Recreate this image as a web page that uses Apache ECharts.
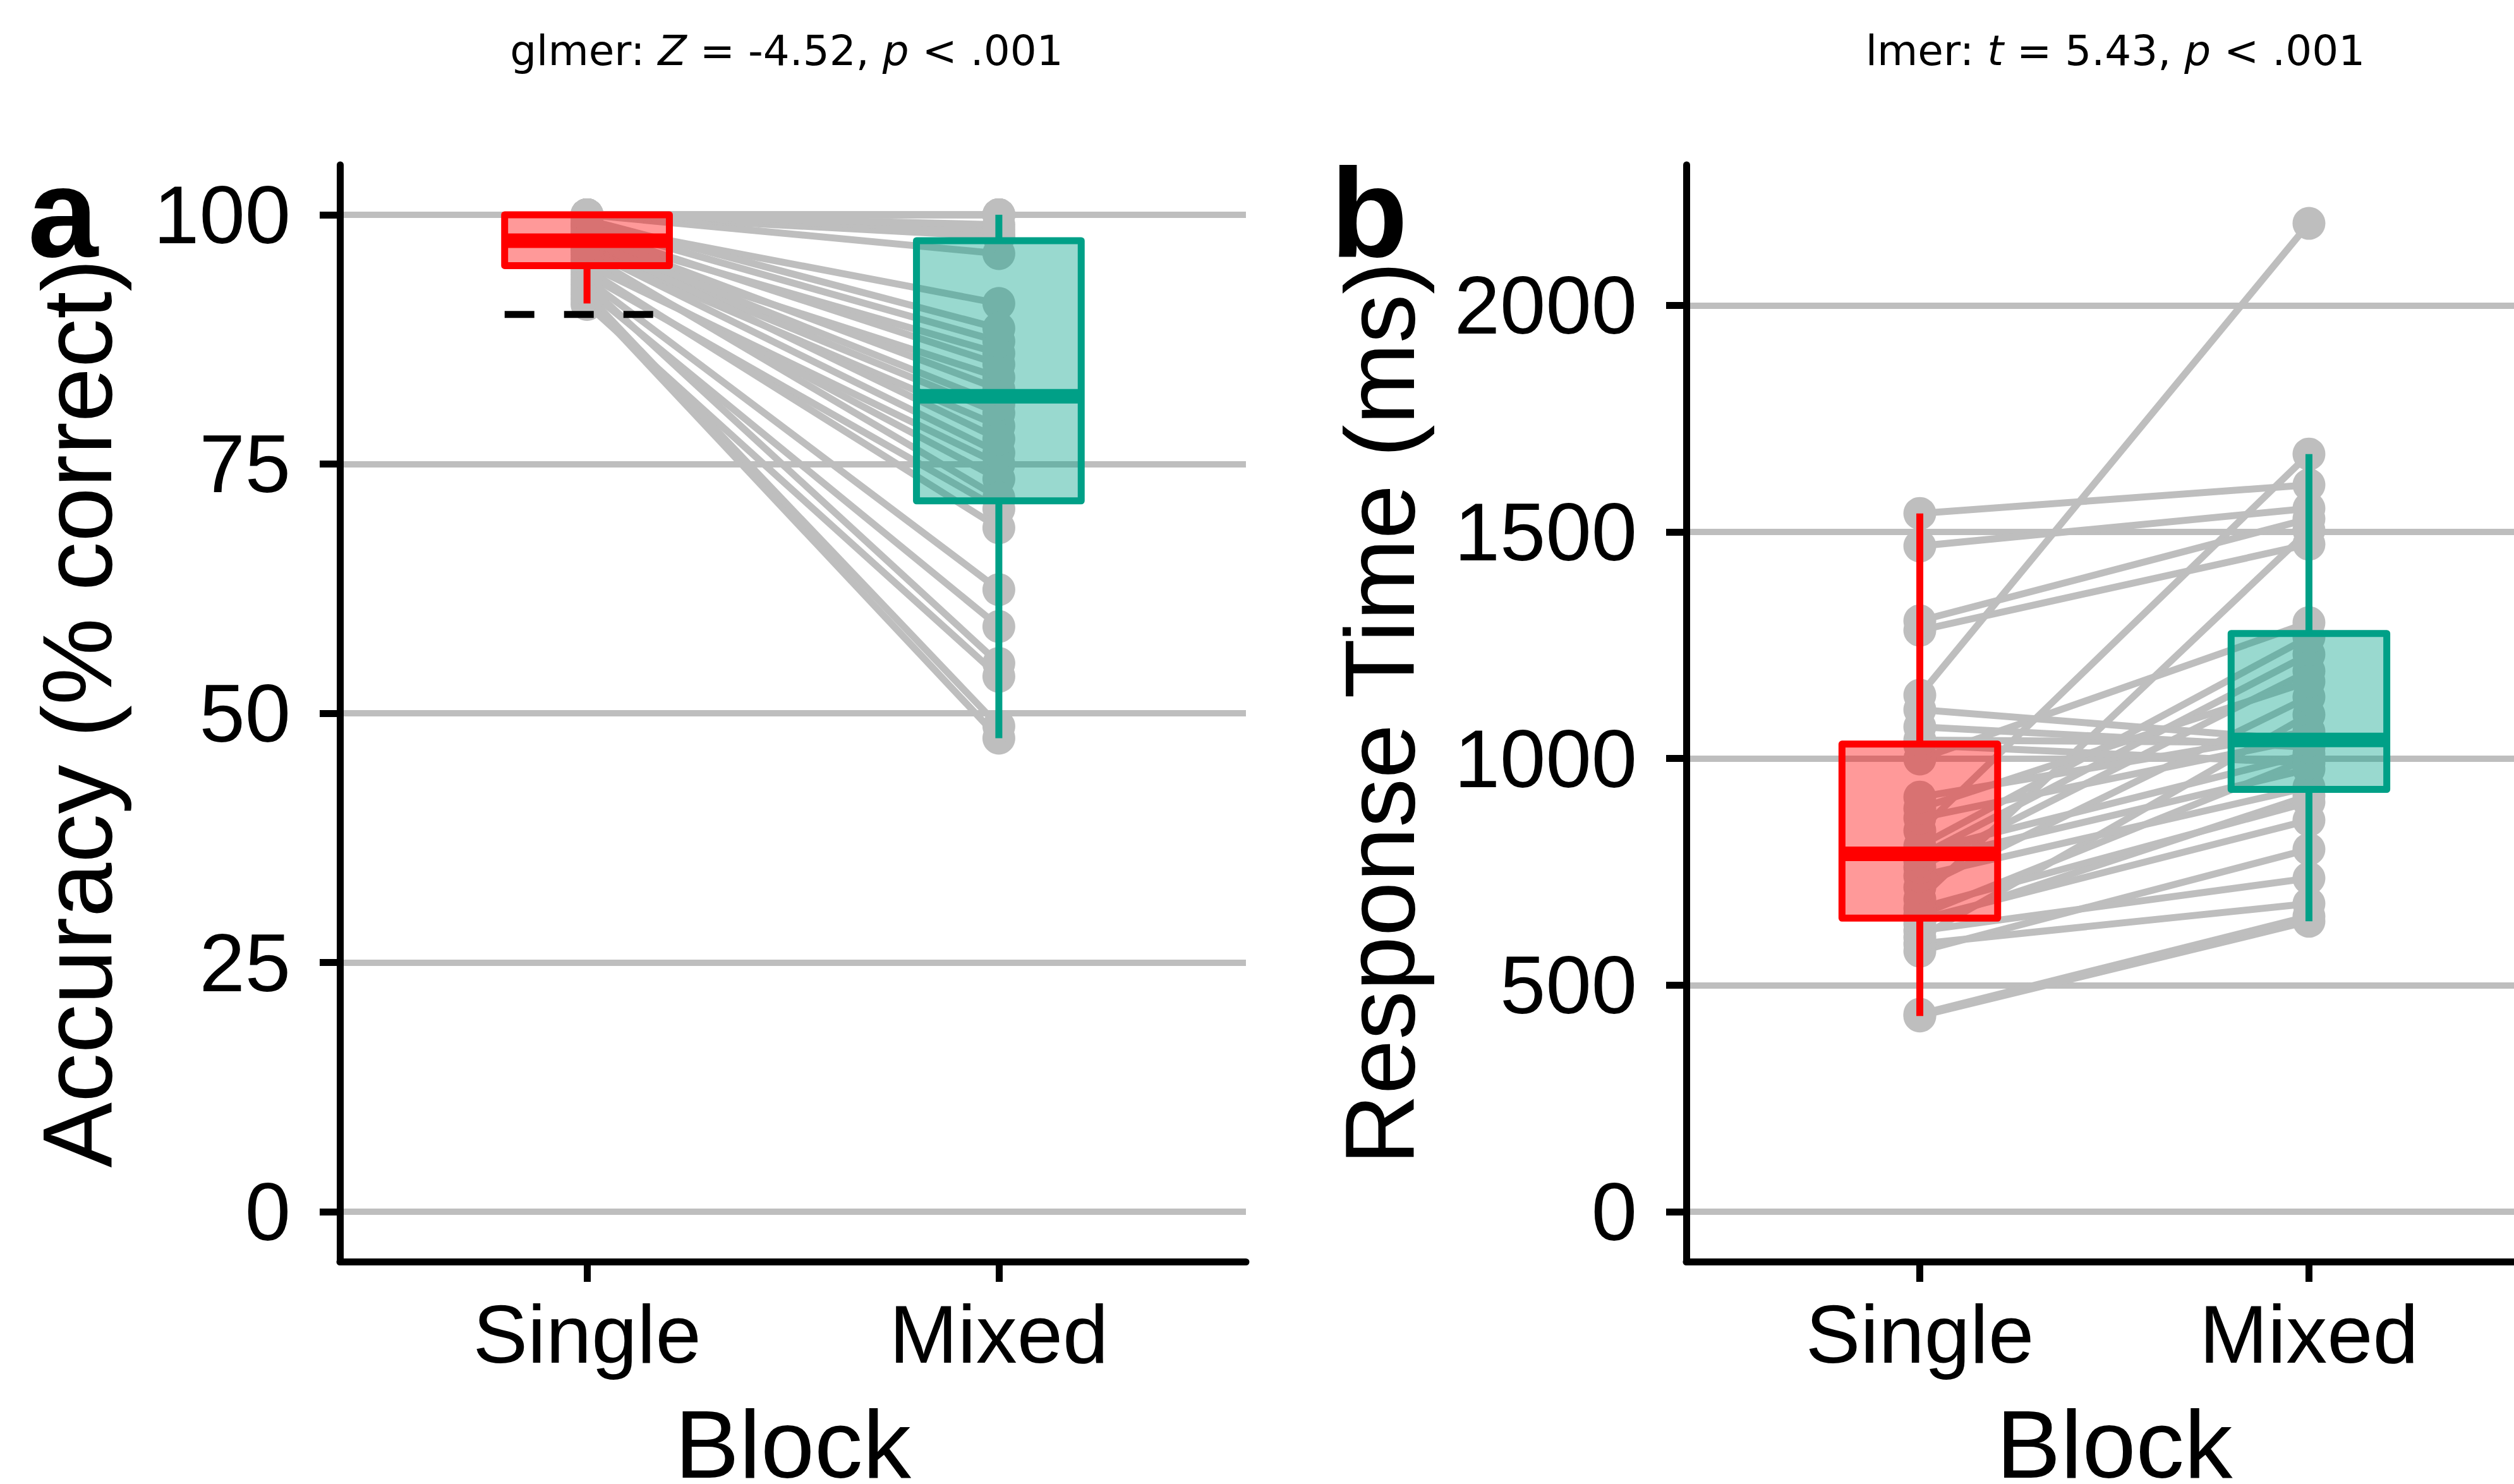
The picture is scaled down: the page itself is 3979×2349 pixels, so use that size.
<!DOCTYPE html>
<html><head><meta charset="utf-8">
<script src="https://cdn.jsdelivr.net/npm/echarts@6/dist/echarts.min.js"></script>
<style>html,body{margin:0;padding:0;background:#fff;}#chart{width:3979px;height:2349px;}</style>
</head><body><div id="chart"></div>
<script>
// ---------- data ----------
const blocks = ['Single', 'Mixed'];
// Panel a: accuracy (% correct), one entry per participant
const accSingle = [91.0,91.5,92.0,92.5,93.0,93.5,94.0,94.5,95.0,95.5,96.0,96.5,96.5,97.0,97.0,97.5,97.5,98.0,98.0,98.5,99.0,99.0,99.5,100,100,100,100,100,100,100,100,100];
const accMixed  = [53.7,47.5,48.7,58.7,55.0,62.4,70.5,68.6,75.0,73.5,71.6,78.8,76.1,80.1,83.7,77.5,81.0,86.1,82.5,85.0,87.3,91.1,88.6,96.1,97.8,98.0,98.5,99.0,100,100,100,100];
// box stats [whiskerLow, Q1, median, Q3, whiskerHigh]
const accBoxSingle = [91.1, 94.9, 97.4, 100, 100];
const accBoxMixed  = [47.5, 71.3, 81.8, 97.4, 100];
const accCriterion = 90;
const accTicks = [0, 25, 50, 75, 100];
// Panel b: response time (ms)
const rtSingle = [432,436,575,591,605,620,635,645,655,670,690,716,741,760,774,785,795,807,841,869,890,915,999,1030,1041,1070,1108,1140,1283,1304,1469,1541];
const rtMixed  = [641,652,800,680,1097,736,918,864,1000,904,1504,1136,937,1193,977,1230,1010,1268,1672,1045,1170,1060,1300,990,1035,1025,1040,2181,1473,1529,1552,1604];
const rtBoxSingle = [432, 648, 790, 1032, 1541];
const rtBoxMixed  = [641, 932, 1041, 1276, 1672];
const rtTicks = [0, 500, 1000, 1500, 2000];

// ---------- style / layout ----------
const GRAY = '#BEBEBE';
const RED = '#FF0000', RED_FILL = 'rgba(255,0,0,0.4)';
const TEAL = '#00A087', TEAL_FILL = 'rgba(0,160,135,0.4)';
const BOX_HALF = 0.2;
const FONT = '"Liberation Sans", Arial, sans-serif';
const W = 3979;
// panel b is cut by the right edge of the image: full panel would span 1355 px for x range 0.4..2.6
const B_LEFT = 2669, B_FULL_W = 1355;
const B_W = W - B_LEFT;
const B_XMAX = 0.4 + 2.2 * B_W / B_FULL_W;
// x-axis title is centred on the full (uncut) panel
const B_NAME_SHIFT = 2 * ((B_FULL_W - B_W) / 2);

const chart = echarts.init(document.getElementById('chart'), null, {renderer: 'svg'});

function xAxisFor(gridIndex, max, namePadLeft) {
  return {
    type: 'value', gridIndex, min: 0.4, max,
    axisLine: {show: true, onZero: false, lineStyle: {color: '#000', width: 11}},
    axisTick: {show: true, length: 32, customValues: [1, 2], lineStyle: {color: '#000', width: 11}},
    axisLabel: {customValues: [1, 2], formatter: v => blocks[Math.round(v) - 1], color: '#000', fontSize: 130, fontFamily: FONT, margin: 50},
    splitLine: {show: false},
    name: 'Block', nameLocation: 'middle', nameGap: 236,
    nameTextStyle: {color: '#000', fontSize: 153, fontFamily: FONT, lineHeight: 104, padding: [0, 0, 0, namePadLeft]}
  };
}
function yAxisFor(gridIndex, min, max, ticks, name, gap) {
  return {
    type: 'value', gridIndex, min, max,
    axisLine: {show: true, onZero: false, lineStyle: {color: '#000', width: 11}},
    axisTick: {show: true, length: 32, customValues: ticks, lineStyle: {color: '#000', width: 11}},
    axisLabel: {customValues: ticks, formatter: v => String(v), color: '#000', fontSize: 130, fontFamily: FONT, margin: 78},
    splitLine: {show: true, lineStyle: {color: GRAY, width: 10}},
    name, nameLocation: 'middle', nameRotate: 90, nameGap: gap,
    nameTextStyle: {color: '#000', fontSize: 155, fontFamily: FONT}
  };
}

function pairSeries(idx, s, m) {
  return {
    type: 'custom', xAxisIndex: idx, yAxisIndex: idx, z: 2,
    data: s.map((v, i) => [1, v, 2, m[i]]),
    encode: {x: [0, 2], y: [1, 3]},
    renderItem: (params, api) => {
      const a = api.coord([api.value(0), api.value(1)]);
      const b = api.coord([api.value(2), api.value(3)]);
      return {type: 'line', shape: {x1: a[0], y1: a[1], x2: b[0], y2: b[1]}, style: {stroke: GRAY, lineWidth: 11}};
    },
    silent: true
  };
}
function pointSeries(idx, s, m) {
  return {
    type: 'scatter', xAxisIndex: idx, yAxisIndex: idx, z: 3,
    data: s.map(v => [1, v]).concat(m.map(v => [2, v])),
    symbolSize: 52, itemStyle: {color: GRAY, opacity: 1}, silent: true
  };
}
function boxSeries(idx, boxes) {
  return {
    type: 'custom', xAxisIndex: idx, yAxisIndex: idx, z: 5,
    data: boxes.map((b, i) => [i + 1].concat(b.stats)),
    encode: {x: 0, y: [1, 2, 3, 4, 5]},
    renderItem: (params, api) => {
      const x = api.value(0);
      const lo = api.value(1), q1 = api.value(2), md = api.value(3), q3 = api.value(4), hi = api.value(5);
      const col = boxes[params.dataIndex].color, fill = boxes[params.dataIndex].fill;
      const pHi = api.coord([x, hi]), pQ3 = api.coord([x, q3]), pQ1 = api.coord([x, q1]), pLo = api.coord([x, lo]);
      const tl = api.coord([x - BOX_HALF, q3]), br = api.coord([x + BOX_HALF, q1]);
      const ml = api.coord([x - BOX_HALF, md]), mr = api.coord([x + BOX_HALF, md]);
      return {type: 'group', children: [
        {type: 'line', shape: {x1: pHi[0], y1: pHi[1], x2: pQ3[0], y2: pQ3[1]}, style: {stroke: col, lineWidth: 11}},
        {type: 'line', shape: {x1: pQ1[0], y1: pQ1[1], x2: pLo[0], y2: pLo[1]}, style: {stroke: col, lineWidth: 11}},
        {type: 'rect', shape: {x: tl[0], y: tl[1], width: br[0] - tl[0], height: br[1] - tl[1]}, style: {fill, stroke: col, lineWidth: 11, lineJoin: 'round'}},
        {type: 'line', shape: {x1: ml[0], y1: ml[1], x2: mr[0], y2: mr[1]}, style: {stroke: col, lineWidth: 23}}
      ]};
    },
    silent: true
  };
}

const TITLE_RICH = {
  n: {fontSize: 66, fontFamily: '"DejaVu Sans"', fill: '#000'},
  i: {fontSize: 66, fontFamily: '"DejaVu Sans"', fontStyle: 'italic', fill: '#000'}
};

const option = {
  animation: false,
  backgroundColor: '#fff',
  grid: [
    {left: 538, top: 261, width: 1434, height: 1736, containLabel: false, outerBoundsMode: 'none'},
    {left: B_LEFT, top: 261, width: B_W, height: 1736, containLabel: false, outerBoundsMode: 'none'}
  ],
  xAxis: [xAxisFor(0, 2.6, 0), xAxisFor(1, B_XMAX, B_NAME_SHIFT)],
  yAxis: [
    yAxisFor(0, -5, 105, accTicks, 'Accuracy (% correct)', 338),
    yAxisFor(1, -110, 2310, rtTicks, 'Response Time (ms)', 407)
  ],
  series: [
    pairSeries(0, accSingle, accMixed),
    pointSeries(0, accSingle, accMixed),
    {
      type: 'line', xAxisIndex: 0, yAxisIndex: 0, z: 4, symbol: 'none', silent: true,
      data: [[1 - BOX_HALF, accCriterion], [1 + BOX_HALF, accCriterion]],
      lineStyle: {color: '#000', width: 11, type: [47, 47]}
    },
    boxSeries(0, [{stats: accBoxSingle, color: RED, fill: RED_FILL}, {stats: accBoxMixed, color: TEAL, fill: TEAL_FILL}]),
    pairSeries(1, rtSingle, rtMixed),
    pointSeries(1, rtSingle, rtMixed),
    boxSeries(1, [{stats: rtBoxSingle, color: RED, fill: RED_FILL}, {stats: rtBoxMixed, color: TEAL, fill: TEAL_FILL}])
  ],
  graphic: [
    {type: 'text', x: 1245, y: 80, style: {
      text: '{n|glmer: }{i|Z}{n| = -4.52, }{i|p}{n| < .001}',
      rich: TITLE_RICH, align: 'center', verticalAlign: 'middle'}},
    {type: 'text', x: 3348, y: 80, style: {
      text: '{n|lmer: }{i|t}{n| = 5.43, }{i|p}{n| < .001}',
      rich: TITLE_RICH, align: 'center', verticalAlign: 'middle'}},
    {type: 'text', x: 44, y: 336, style: {text: 'a', font: 'bold 200px ' + FONT, fill: '#000', align: 'left', verticalAlign: 'middle'}},
    {type: 'text', x: 2106, y: 336, style: {text: 'b', font: 'bold 200px ' + FONT, fill: '#000', align: 'left', verticalAlign: 'middle'}}
  ]
};
chart.setOption(option);
</script></body></html>
